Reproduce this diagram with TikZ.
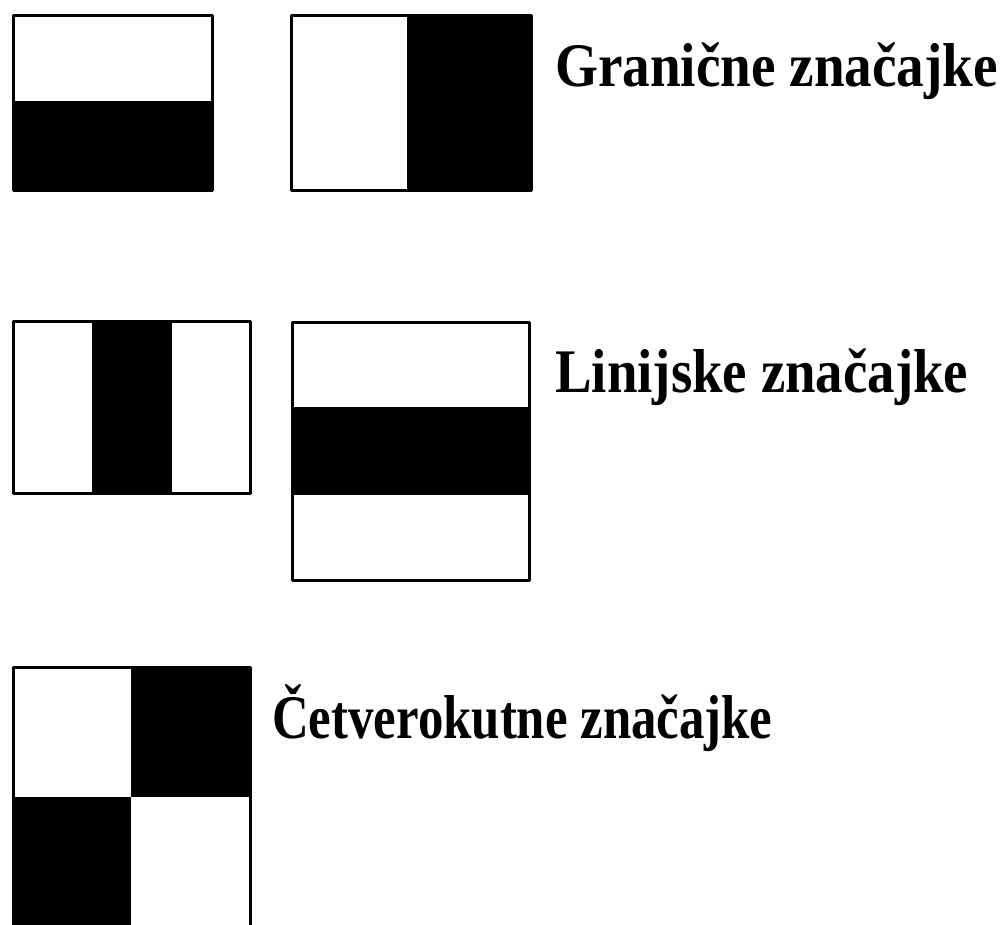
\documentclass[tikz,border=0pt]{standalone}
\usepackage{fontspec}
\setmainfont{Liberation Serif}
\begin{document}
\begin{tikzpicture}[x=1pt,y=-1pt,
  frame/.style={draw=black,line width=3pt,line join=round},
  blk/.style={fill=black},
  lbl/.style={anchor=base west,inner sep=0pt,font=\fontsize{62}{70}\selectfont\bfseries}]
\newcommand\sqz[2]{\scalebox{#1}[1]{#2}}
\useasboundingbox (0,0) rectangle (1003,925);
\clip (0,0) rectangle (1003,925);
% Box 1: edge horizontal
\fill[blk] (13,101) rectangle (212,191);
\draw[frame] (13,16) rectangle (212,191);
% Box 2: edge vertical
\fill[blk] (407,16) rectangle (531,191);
\draw[frame] (291,16) rectangle (531,191);
% Box 3: vertical line
\fill[blk] (92,321) rectangle (172,493);
\draw[frame] (13,321) rectangle (250,493);
% Box 4: horizontal line
\fill[blk] (292,407) rectangle (529,495);
\draw[frame] (292,322) rectangle (529,580);
% Box 5: four-rectangle
\fill[blk] (131,667) rectangle (250,797);
\fill[blk] (13,797) rectangle (131,935);
\draw[frame] (13,667) rectangle (250,935);
\node[lbl] (t1) at (555,87) {\sqz{0.89}{Granične značajke}};
\node[lbl] (t2) at (555,392) {\sqz{0.885}{Linijske značajke}};
\node[lbl] (t3) at (272,738) {\sqz{0.82}{Četverokutne značajke}};
\end{tikzpicture}
\end{document}
